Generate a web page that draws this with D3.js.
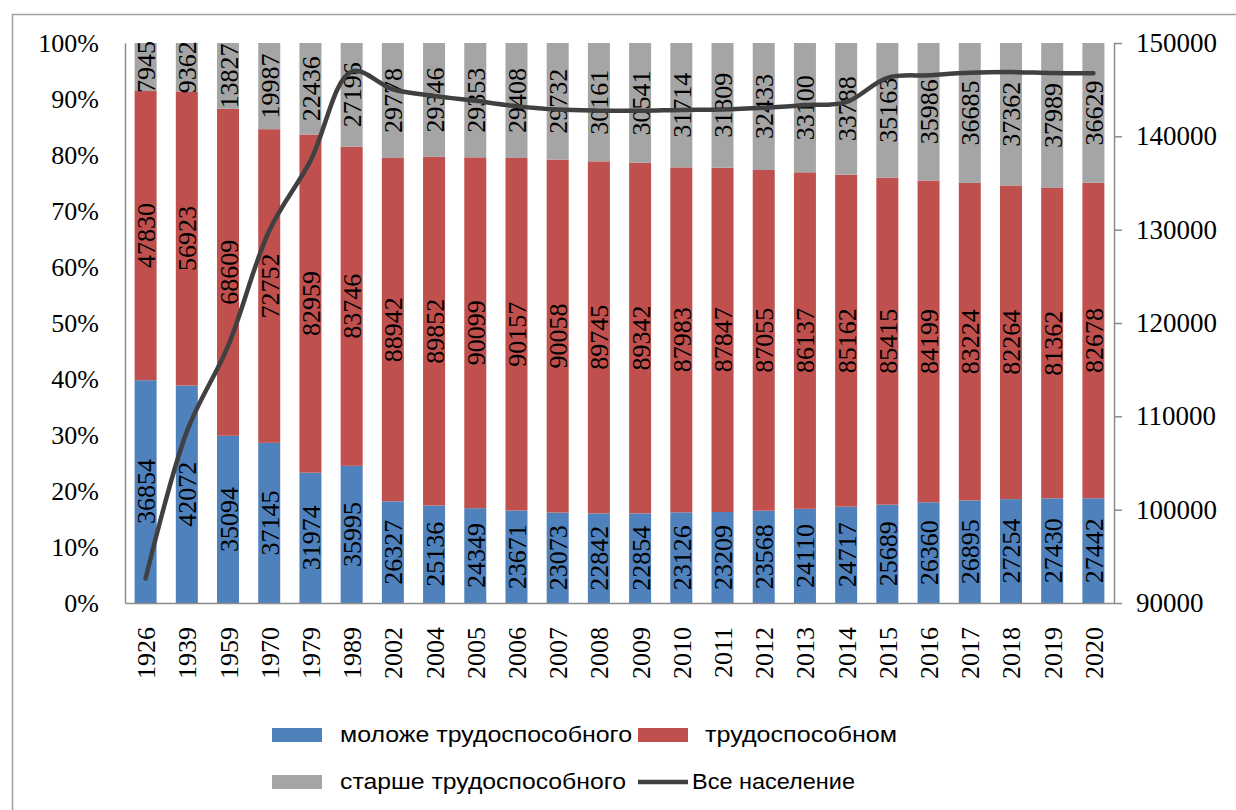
<!DOCTYPE html>
<html>
<head>
<meta charset="utf-8">
<script src="https://cdn.jsdelivr.net/npm/d3@7"></script>
<style>
  body { margin: 0; background: #fff; }
  svg { display: block; }
</style>
</head>
<body>
<svg id="chart" width="1236" height="810"></svg>
<script>
// Population of Russia by age group, thousand people
const years = ["1926","1939","1959","1970","1979","1989","2002","2004","2005","2006","2007","2008",
               "2009","2010","2011","2012","2013","2014","2015","2016","2017","2018","2019","2020"];
const younger = [36854,42072,35094,37145,31974,35995,26327,25136,24349,23671,23073,22842,
                 22854,23126,23209,23568,24110,24717,25689,26360,26895,27254,27430,27442];
const working = [47830,56923,68609,72752,82959,83746,88942,89852,90099,90157,90058,89745,
                 89342,87983,87847,87055,86137,85162,85415,84199,83224,82264,81362,82678];
const older   = [7945,9362,13827,19987,22436,27196,29778,29346,29353,29408,29732,30161,
                 30541,31714,31809,32433,33100,33788,35163,35986,36685,37362,37989,36629];
const totalPop = [92629,108357,117530,129884,137369,146937,145047,144334,143801,143236,142863,142748,
                  142737,142823,142865,143056,143347,143667,146267,146545,146804,146880,146781,146749];

const pctTicks = [0,0.1,0.2,0.3,0.4,0.5,0.6,0.7,0.8,0.9,1];
const popTicks = [90000,100000,110000,120000,130000,140000,150000];

const seriesNames = ["моложе трудоспособного","трудоспособном","старше трудоспособного"];
const lineName = "Все население";
const colors = ["#4F81BD","#C0504D","#A5A5A5"];
const lineColor = "#404040";

const svg = d3.select("#chart");
const serif = "'Liberation Serif','Times New Roman',serif";

// outer frame
svg.append("rect")
  .attr("x", 12.5).attr("y", 14.5)
  .attr("width", 1240).attr("height", 820)
  .attr("fill", "none").attr("stroke", "#a0a0a0").attr("stroke-width", 1.5);

const plot = { left: 125, right: 1114, top: 43, bottom: 603 };

const x = d3.scaleBand()
  .domain(years)
  .range([plot.left, plot.right])
  .paddingInner(0.466)
  .paddingOuter(0.233);

const yPct = d3.scaleLinear().domain([0, 1]).range([plot.bottom, plot.top]);
const yPop = d3.scaleLinear().domain([90000, 150000]).range([plot.bottom, plot.top]);

// stacked shares
const rows = years.map((yr, i) => ({
  year: yr,
  vals: [younger[i], working[i], older[i]],
  sum: younger[i] + working[i] + older[i]
}));

const segs = [];
rows.forEach(r => {
  let acc = 0;
  r.vals.forEach((v, k) => {
    const y0 = acc / r.sum;
    acc += v;
    const y1 = acc / r.sum;
    segs.push({ year: r.year, k, v, y0, y1 });
  });
});

svg.append("g").selectAll("rect")
  .data(segs)
  .join("rect")
  .attr("x", d => x(d.year))
  .attr("width", x.bandwidth())
  .attr("y", d => yPct(d.y1))
  .attr("height", d => yPct(d.y0) - yPct(d.y1))
  .attr("fill", d => colors[d.k]);

// value labels inside segments
svg.append("g").selectAll("text")
  .data(segs)
  .join("text")
  .attr("transform", d => `translate(${x(d.year) + x.bandwidth() / 2 + 1},${(yPct(d.y0) + yPct(d.y1)) / 2}) rotate(-90)`)
  .attr("text-anchor", "middle")
  .attr("dominant-baseline", "central")
  .attr("font-family", serif)
  .attr("font-size", 26)
  .attr("fill", "#000")
  .text(d => d.v);

// axes
const axisColor = "#8c8c8c";
const leftAxis = d3.axisLeft(yPct).tickValues(pctTicks).tickSize(0).tickPadding(26)
  .tickFormat(d => Math.round(d * 100) + "%");
const gL = svg.append("g").attr("transform", `translate(${plot.left},0)`).call(leftAxis);
gL.select(".domain").attr("stroke", axisColor).attr("stroke-width", 1.5);
gL.selectAll("text").attr("font-family", serif).attr("font-size", 26).attr("fill", "#000");

const rightAxis = d3.axisRight(yPop).tickValues(popTicks).tickSize(8).tickSizeOuter(0).tickPadding(14)
  .tickFormat(d3.format("d"));
const gR = svg.append("g").attr("transform", `translate(${plot.right},0)`).call(rightAxis);
gR.select(".domain").attr("stroke", axisColor).attr("stroke-width", 1.5);
gR.selectAll(".tick line").attr("stroke", axisColor).attr("stroke-width", 1.5);
gR.selectAll("text").attr("font-family", serif).attr("font-size", 27).attr("fill", "#000");

const bottomAxis = d3.axisBottom(x).tickSize(0).tickSizeOuter(0);
const gB = svg.append("g").attr("transform", `translate(0,${plot.bottom})`).call(bottomAxis);
gB.select(".domain").attr("stroke", axisColor).attr("stroke-width", 1.5);
gB.selectAll("text")
  .attr("font-family", serif).attr("font-size", 26).attr("fill", "#000")
  .attr("text-anchor", "end")
  .attr("dominant-baseline", "central")
  .attr("transform", "translate(1,24) rotate(-90)")
  .attr("x", 0).attr("y", 0).attr("dy", null);

// total population line
const line = d3.line()
  .x((d, i) => x(years[i]) + x.bandwidth() / 2)
  .y(d => yPop(d))
  .curve(d3.curveCatmullRom.alpha(0.5));

svg.append("path")
  .datum(totalPop)
  .attr("d", line)
  .attr("fill", "none")
  .attr("stroke", lineColor)
  .attr("stroke-width", 4.5)
  .attr("stroke-linecap", "round")
  .attr("stroke-linejoin", "round");

// legend
const legendFont = "'Liberation Sans Narrow','Liberation Sans',Arial,sans-serif";
const legendItems = [
  { type: "rect", color: colors[0], label: seriesNames[0], sx: 272, tx: 340, tw: 292, y: 735 },
  { type: "rect", color: colors[1], label: seriesNames[1], sx: 638, tx: 705, tw: 192, y: 735 },
  { type: "rect", color: colors[2], label: seriesNames[2], sx: 272, tx: 340, tw: 286, y: 782 },
  { type: "line", color: lineColor, label: lineName,       sx: 638, tx: 692, tw: 163, y: 782 }
];
const lg = svg.append("g");
legendItems.forEach(it => {
  if (it.type === "rect") {
    lg.append("rect").attr("x", it.sx).attr("y", it.y - 7).attr("width", 50).attr("height", 14)
      .attr("fill", it.color);
  } else {
    lg.append("line").attr("x1", it.sx).attr("x2", it.sx + 50).attr("y1", it.y).attr("y2", it.y)
      .attr("stroke", it.color).attr("stroke-width", 4.5);
  }
  lg.append("text")
    .attr("x", it.tx).attr("y", it.y + 7)
    .attr("font-family", legendFont).attr("font-size", 22).attr("fill", "#000")
    .attr("textLength", it.tw).attr("lengthAdjust", "spacingAndGlyphs")
    .text(it.label);
});
</script>
</body>
</html>
